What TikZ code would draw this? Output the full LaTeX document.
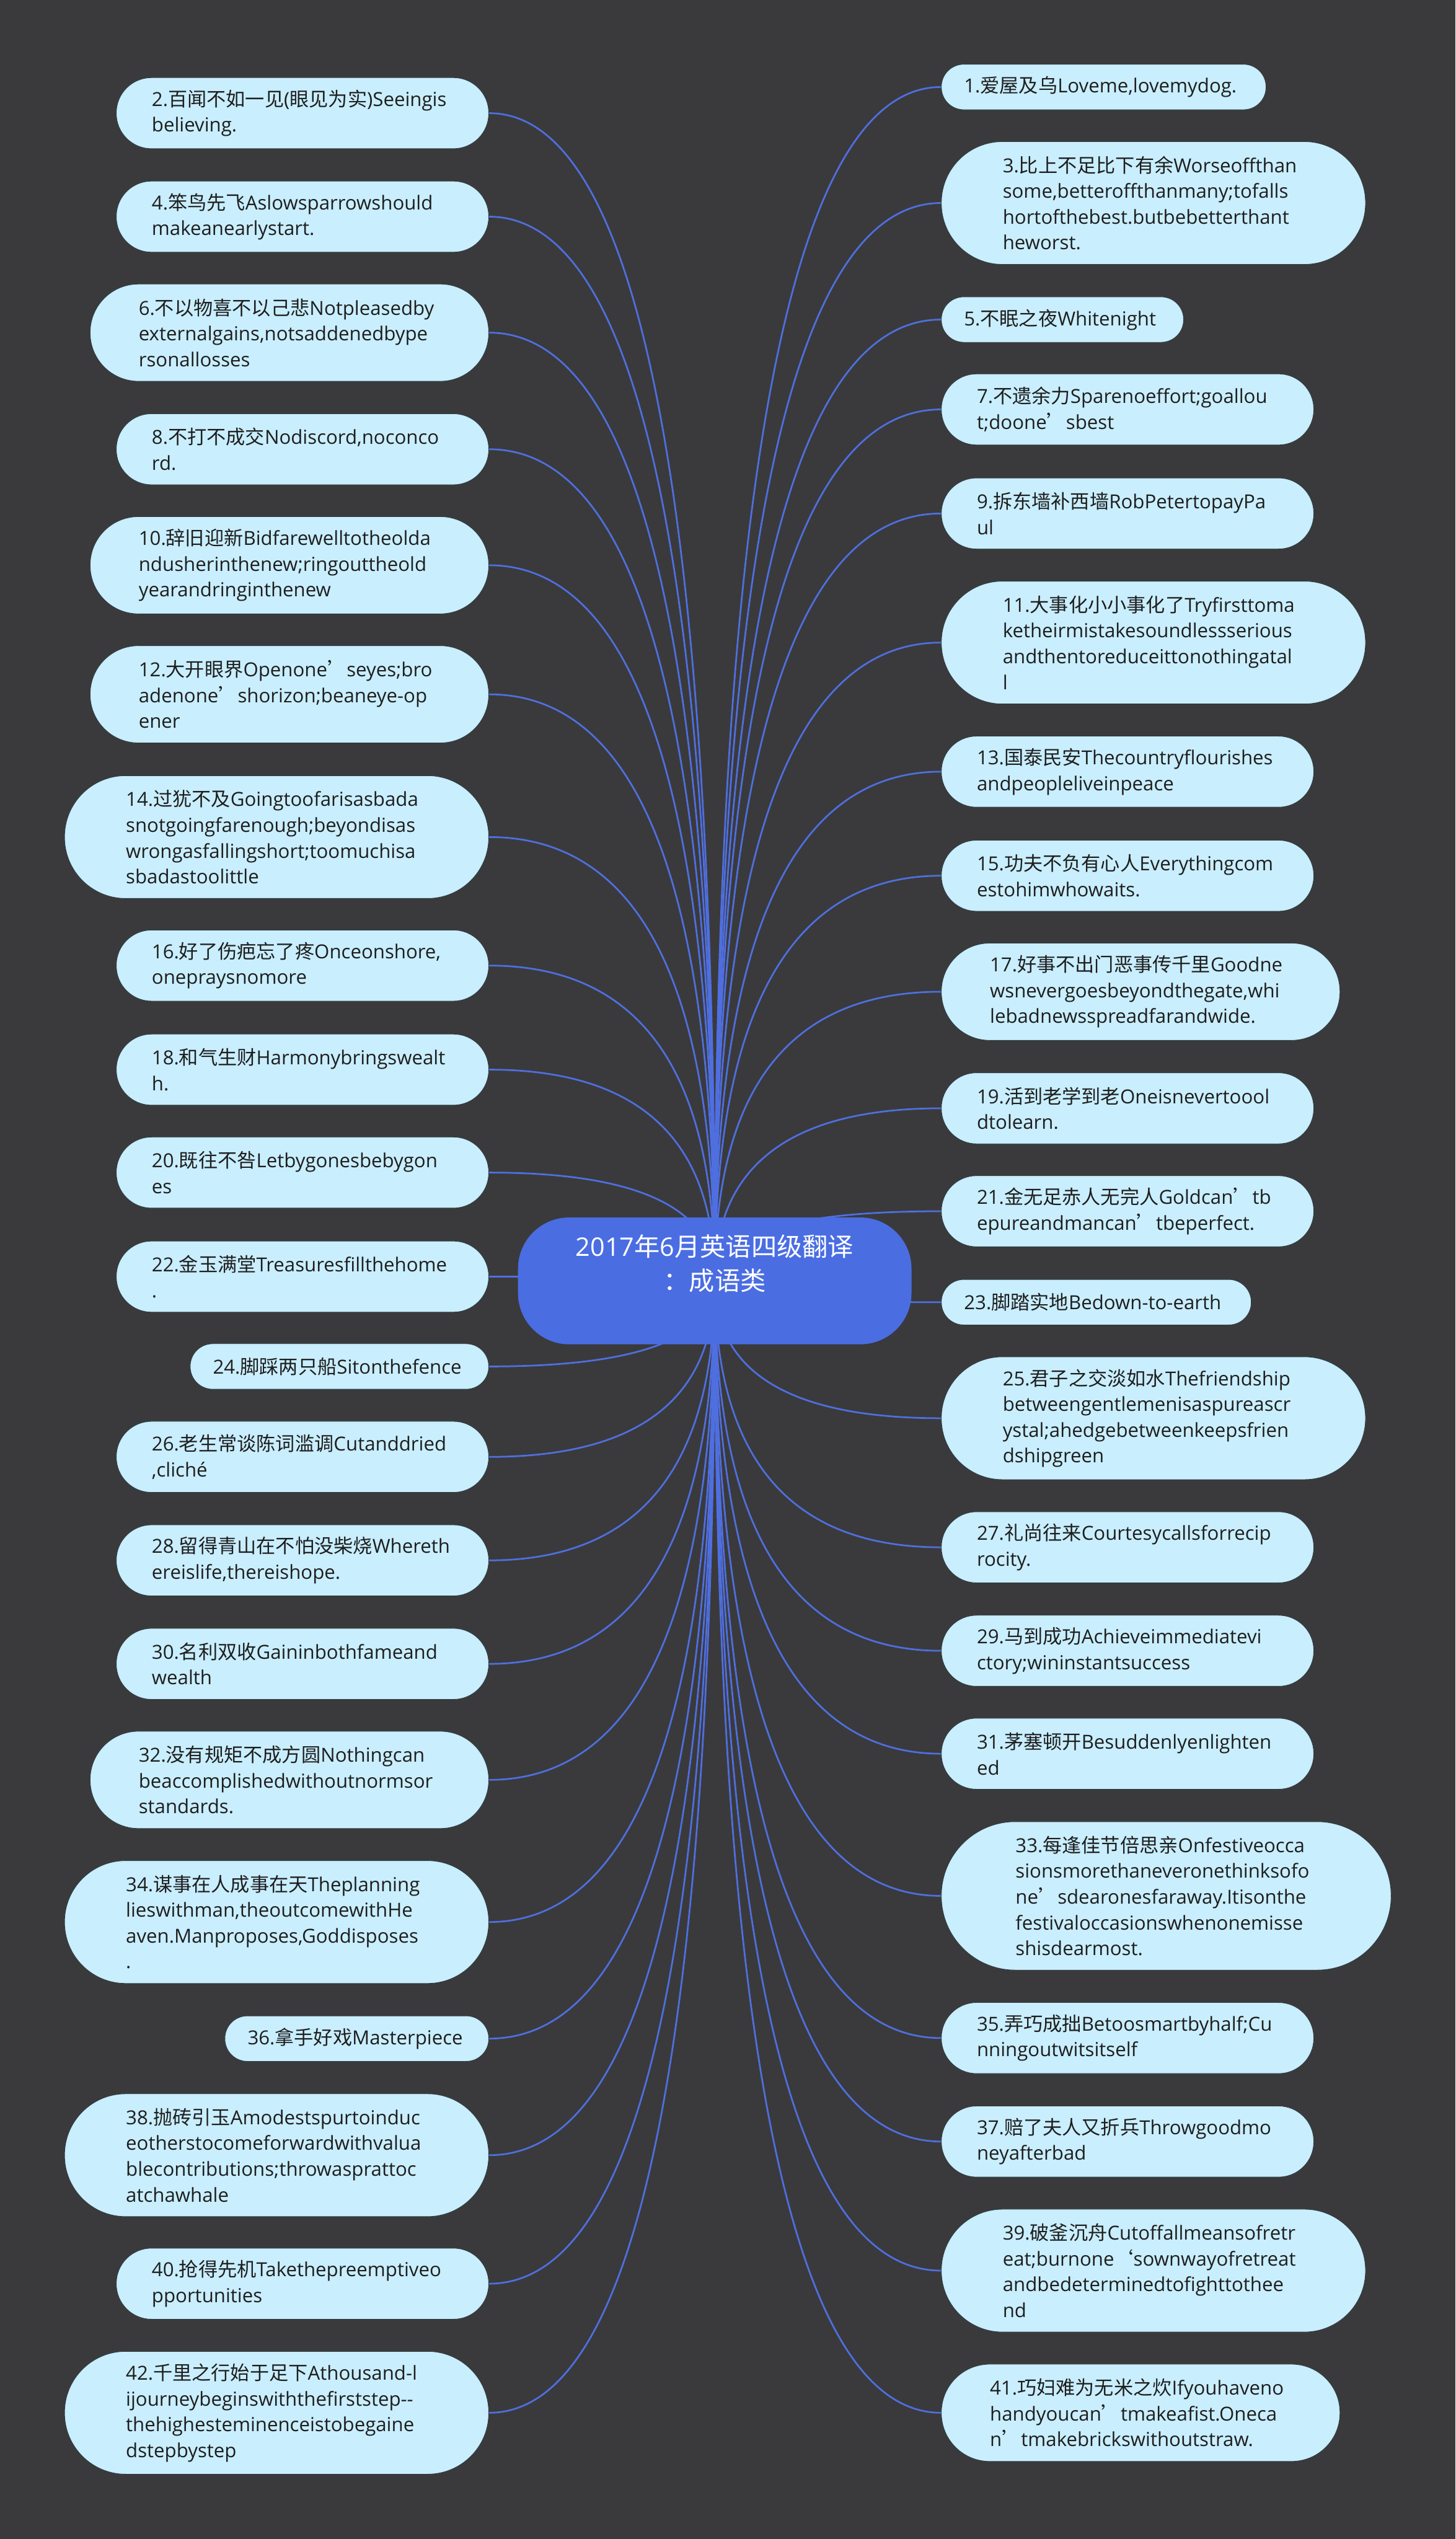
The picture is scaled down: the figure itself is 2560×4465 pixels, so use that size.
\documentclass[tikz,border=0pt]{standalone}
\usepackage{fontspec}
\setmainfont{Open Sans}
\newfontfamily\cjk{Noto Sans CJK SC}
\newcommand\zh[1]{{\cjk #1}}
\usetikzlibrary{calc}
\definecolor{bgcol}{HTML}{3A3A3C}
\definecolor{leaffill}{HTML}{C9EEFE}
\definecolor{leafline}{HTML}{2E3A40}
\definecolor{leaftext}{HTML}{1E1E1E}
\definecolor{linecol}{HTML}{4F6FE0}
\definecolor{ctrfill}{HTML}{4A6DE2}
\pgfdeclarelayer{back}
\pgfdeclarelayer{lines}
\pgfsetlayers{back,lines,main}
\tikzset{
  leaf/.style={fill=leaffill, draw=leafline, line width=1pt, text=leaftext, align=left,
    inner sep=0pt, font=\fontsize{34}{45.3}\selectfont},
  ctrnode/.style={fill=ctrfill, draw=none, text=white, align=center, inner sep=0pt,
    font=\fontsize{45}{60}\selectfont},
  conn/.style={draw=linecol, line width=3pt},
}
\newcommand\leafL[5]{%
  \pgfmathsetmacro\lfr{#3/2-0.5}%
  \pgfmathsetmacro\lftw{#4-#3}%
  \node[leaf, anchor=east, minimum height=#3pt, minimum width=#4pt,
    rounded corners=\lfr pt, text width=\lftw pt] (#1) at (860,#2) {#5};}
\newcommand\leafR[5]{%
  \pgfmathsetmacro\lfr{#3/2-0.5}%
  \pgfmathsetmacro\lftw{#4-#3}%
  \node[leaf, anchor=west, minimum height=#3pt, minimum width=#4pt,
    rounded corners=\lfr pt, text width=\lftw pt] (#1) at (1655,#2) {#5};}
\begin{document}
\begin{tikzpicture}[x=1pt,y=-1pt]
\begin{pgfonlayer}{back}
\fill[bgcol] (0,0) rectangle (2560,4465);
\end{pgfonlayer}
\useasboundingbox (0,0) rectangle (2560,4465);

\node[ctrnode, minimum width=692pt, minimum height=223pt, rounded corners=90pt] (ctr) at (1257,2252.5)
  {2017\zh{年}6\zh{月英语四级翻译}\\\zh{：成语类}\rule[-66pt]{0pt}{1pt}};

% left column
\leafL{n2}{199}{125}{655}{2.\zh{百闻不如一见}(\zh{眼见为实})Seeingis\\believing.}
\leafL{n4}{381}{125}{655}{4.\zh{笨鸟先飞}Aslowsparrowshould\\makeanearlystart.}
\leafL{n6}{585}{171}{701}{6.\zh{不以物喜不以己悲}Notpleasedby\\externalgains,notsaddenedbype\\rsonallosses}
\leafL{n8}{790}{125}{655}{8.\zh{不打不成交}Nodiscord,noconco\\rd.}
\leafL{n10}{994}{171}{701}{10.\zh{辞旧迎新}Bidfarewelltotheolda\\ndusherinthenew;ringouttheold\\yearandringinthenew}
\leafL{n12}{1221}{171}{701}{12.\zh{大开眼界}Openone\zh{’}seyes;bro\\adenone\zh{’}shorizon;beaneye-op\\ener}
\leafL{n14}{1472}{216}{746}{14.\zh{过犹不及}Goingtoofarisasbada\\snotgoingfarenough;beyondisas\\wrongasfallingshort;toomuchisa\\sbadastoolittle}
\leafL{n16}{1698}{125}{655}{16.\zh{好了伤疤忘了疼}Onceonshore,\\onepraysnomore}
\leafL{n18}{1881}{125}{655}{18.\zh{和气生财}Harmonybringswealt\\h.}
\leafL{n20}{2062}{125}{655}{20.\zh{既往不咎}Letbygonesbebygon\\es}
\leafL{n22}{2245}{125}{655}{22.\zh{金玉满堂}Treasuresfillthehome\\.}
\leafL{n24}{2403}{80}{525}{24.\zh{脚踩两只船}Sitonthefence}
\leafL{n26}{2562}{125}{655}{26.\zh{老生常谈陈词滥调}Cutanddried\\,cliché}
\leafL{n28}{2744}{125}{655}{28.\zh{留得青山在不怕没柴烧}Whereth\\ereislife,thereishope.}
\leafL{n30}{2926}{125}{655}{30.\zh{名利双收}Gaininbothfameand\\wealth}
\leafL{n32}{3130}{171}{701}{32.\zh{没有规矩不成方圆}Nothingcan\\beaccomplishedwithoutnormsor\\standards.}
\leafL{n34}{3380}{216}{746}{34.\zh{谋事在人成事在天}Theplanning\\lieswithman,theoutcomewithHe\\aven.Manproposes,Goddisposes\\.}
\leafL{n36}{3585}{80}{464}{36.\zh{拿手好戏}Masterpiece}
\leafL{n38}{3790}{216}{746}{38.\zh{抛砖引玉}Amodestspurtoinduc\\eotherstocomeforwardwithvalua\\blecontributions;throwasprattoc\\atchawhale}
\leafL{n40}{4016}{125}{655}{40.\zh{抢得先机}Takethepreemptiveo\\pportunities}
\leafL{n42}{4243}{216}{746}{42.\zh{千里之行始于足下}Athousand-l\\ijourneybeginswiththefirststep-{}-\\thehighesteminenceistobegaine\\dstepbystep}

% right column
\leafR{n1}{153}{80}{571}{1.\zh{爱屋及乌}Loveme,lovemydog.}
\leafR{n3}{357}{216}{746}{3.\zh{比上不足比下有余}Worseoffthan\\some,betteroffthanmany;tofalls\\hortofthebest.butbebetterthant\\heworst.}
\leafR{n5}{562}{80}{426}{5.\zh{不眠之夜}Whitenight}
\leafR{n7}{720}{125}{655}{7.\zh{不遗余力}Sparenoeffort;goallou\\t;doone\zh{’}sbest}
\leafR{n9}{903}{125}{655}{9.\zh{拆东墙补西墙}RobPetertopayPa\\ul}
\leafR{n11}{1130}{216}{746}{11.\zh{大事化小小事化了}Tryfirsttoma\\ketheirmistakesoundlessserious\\andthentoreduceittonothingatal\\l}
\leafR{n13}{1357}{125}{655}{13.\zh{国泰民安}Thecountryflourishes\\andpeopleliveinpeace}
\leafR{n15}{1540}{125}{655}{15.\zh{功夫不负有心人}Everythingcom\\estohimwhowaits.}
\leafR{n17}{1744}{171}{701}{17.\zh{好事不出门恶事传千里}Goodne\\wsnevergoesbeyondthegate,whi\\lebadnewsspreadfarandwide.}
\leafR{n19}{1949}{125}{655}{19.\zh{活到老学到老}Oneisnevertoool\\dtolearn.}
\leafR{n21}{2130}{125}{655}{21.\zh{金无足赤人无完人}Goldcan\zh{’}tb\\epureandmancan\zh{’}tbeperfect.}
\leafR{n23}{2290}{80}{545}{23.\zh{脚踏实地}Bedown-to-earth}
\leafR{n25}{2494}{216}{746}{25.\zh{君子之交淡如水}Thefriendship\\betweengentlemenisaspureascr\\ystal;ahedgebetweenkeepsfrien\\dshipgreen}
\leafR{n27}{2721}{125}{655}{27.\zh{礼尚往来}Courtesycallsforrecip\\rocity.}
\leafR{n29}{2903}{125}{655}{29.\zh{马到成功}Achieveimmediatevi\\ctory;wininstantsuccess}
\leafR{n31}{3084}{125}{655}{31.\zh{茅塞顿开}Besuddenlyenlighten\\ed}
\leafR{n33}{3334}{261}{791}{33.\zh{每逢佳节倍思亲}Onfestiveocca\\sionsmorethaneveronethinksofo\\ne\zh{’}sdearonesfaraway.Itisonthe\\festivaloccasionswhenonemisse\\shisdearmost.}
\leafR{n35}{3584}{125}{655}{35.\zh{弄巧成拙}Betoosmartbyhalf;Cu\\nningoutwitsitself}
\leafR{n37}{3766}{125}{655}{37.\zh{赔了夫人又折兵}Throwgoodmo\\neyafterbad}
\leafR{n39}{3993}{216}{746}{39.\zh{破釜沉舟}Cutoffallmeansofretr\\eat;burnone\zh{‘}sownwayofretreat\\andbedeterminedtofighttothee\\nd}
\leafR{n41}{4243}{171}{701}{41.\zh{巧妇难为无米之炊}Ifyouhaveno\\handyoucan\zh{’}tmakeafist.Oneca\\n\zh{’}tmakebrickswithoutstraw.}

\begin{pgfonlayer}{lines}
\foreach \n in {2,4,...,42}
  \draw[conn] (ctr.center) .. controls ($(ctr.center)!0.6667!(ctr.center |- n\n.east)$)
     and ($(n\n.east)!0.6667!(ctr.center |- n\n.east)$) .. (n\n.east);
\foreach \n in {1,3,...,41}
  \draw[conn] (ctr.center) .. controls ($(ctr.center)!0.6667!(ctr.center |- n\n.west)$)
     and ($(n\n.west)!0.6667!(ctr.center |- n\n.west)$) .. (n\n.west);
\end{pgfonlayer}
\end{tikzpicture}
\end{document}
